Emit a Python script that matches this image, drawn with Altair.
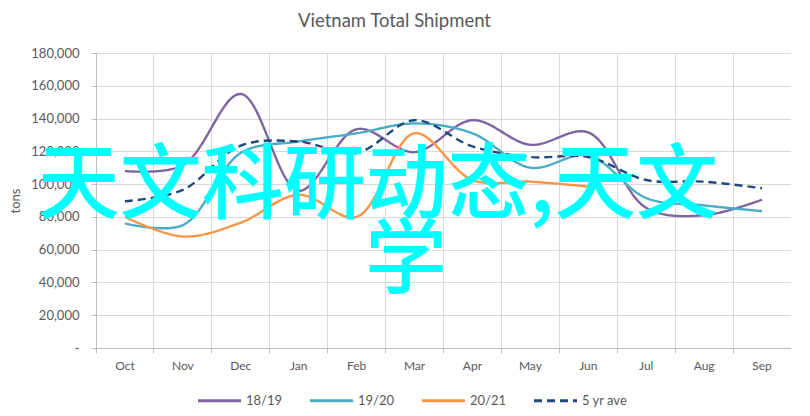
import altair as alt
import pandas as pd

months = ["Oct", "Nov", "Dec", "Jan", "Feb", "Mar", "Apr", "May", "Jun", "Jul", "Aug", "Sep"]
s1819 = [108000, 111500, 155000, 96000, 133500, 119500, 139000, 124000, 131500, 85500, 81000, 90500]
s1920 = [76000, 75000, 119000, 126000, 131000, 137000, 131000, 110000, 117500, 91500, 87000, 83500]
s2021 = [80000, 68000, 76500, 93500, 80000, 131000, 102500, 101500, 98500]
s5yr = [89500, 96500, 123500, 126000, 119000, 139000, 123000, 116500, 116500, 102500, 101500, 97500]
series_names = ["18/19", "19/20", "20/21", "5 yr ave"]
series_colors = ["#8064A2", "#4BACC6", "#F79646", "#1F497D"]
watermark_line1 = "天文科研动态,天文"
watermark_line2 = "学"

rows = []
for name, vals in zip(series_names, [s1819, s1920, s2021, s5yr]):
    for m, v in zip(months, vals):
        rows.append({"month": m, "value": v, "series": name})
df = pd.DataFrame(rows)

font = "Lato"
grey = "#595959"

lines = alt.Chart(df).mark_line(interpolate="catmull-rom", strokeWidth=2.4).encode(
    x=alt.X("month:O", sort=months, title=None,
            scale=alt.Scale(type="band", paddingInner=0, paddingOuter=0),
            axis=alt.Axis(bandPosition=0, grid=True, gridColor="#d9d9d9", domainColor="#bfbfbf",
                          tickColor="#bfbfbf", tickSize=5, labelAngle=0, labelPadding=7,
                          labelColor=grey, labelFontSize=12, labelFont=font)),
    y=alt.Y("value:Q", title="tons",
            scale=alt.Scale(domain=[0, 180000]),
            axis=alt.Axis(values=list(range(0, 180001, 20000)),
                          labelExpr="datum.value == 0 ? '-' : format(datum.value, ',')",
                          gridColor="#d9d9d9", domainColor="#bfbfbf", tickColor="#bfbfbf",
                          tickSize=5, labelPadding=12, labelColor=grey, labelFontSize=13,
                          labelFont=font, titleColor=grey, titleFontSize=13,
                          titleFontWeight="normal", titleFont=font, titlePadding=8)),
    color=alt.Color("series:N", sort=series_names,
                    scale=alt.Scale(domain=series_names, range=series_colors),
                    legend=alt.Legend(title=None, orient="none", direction="horizontal",
                                      legendX=100, legendY=324,
                                      symbolType="stroke", symbolSize=1850, symbolStrokeWidth=3,
                                      labelFontSize=13, labelColor=grey, labelFont=font,
                                      labelOffset=3, columnPadding=20)),
    strokeDash=alt.StrokeDash("series:N", sort=series_names,
                              scale=alt.Scale(domain=series_names,
                                              range=[[1, 0], [1, 0], [1, 0], [8, 5]]),
                              legend=alt.Legend(title=None, orient="none", legendX=100, legendY=324)),
)

wm1 = alt.Chart(pd.DataFrame({"t": [watermark_line1]})).mark_text(
    font="Noto Sans CJK SC", fontSize=82, fontWeight=500, color="#00FFFF",
    align="center", baseline="middle"
).encode(text="t:N", x=alt.value(282), y=alt.value(134))

wm2 = alt.Chart(pd.DataFrame({"t": [watermark_line2]})).mark_text(
    font="Noto Sans CJK SC", fontSize=82, fontWeight=500, color="#00FFFF",
    align="center", baseline="middle"
).encode(text="t:N", x=alt.value(310), y=alt.value(209))

chart = alt.layer(lines, wm1, wm2).properties(
    width=695, height=295, padding={"top": 3, "left": 1, "right": 0, "bottom": 0},
    title=alt.TitleParams("Vietnam Total Shipment", fontSize=18.5, fontWeight="normal",
                          color=grey, font=font, anchor="middle", frame="group",
                          offset=16, dx=-49, dy=-1),
).configure_view(stroke="#d9d9d9").configure(background="white")

chart.save("out.html", embed_options={"renderer": "svg", "actions": False})
